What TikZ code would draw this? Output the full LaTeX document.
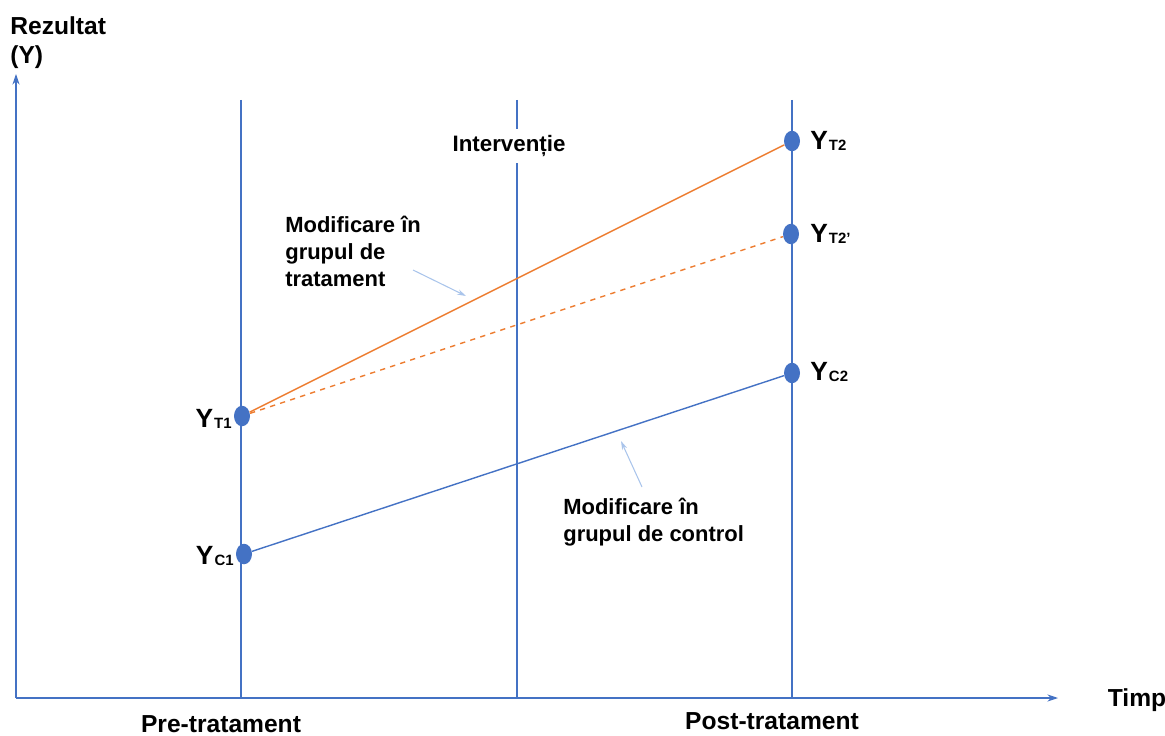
\documentclass[tikz,border=0pt]{standalone}
\usepackage{fontspec}
\setmainfont{Liberation Sans}
\usetikzlibrary{arrows.meta,shapes.geometric}
\definecolor{axisblue}{HTML}{4472C4}
\definecolor{linkblue}{HTML}{A9C4EB}
\definecolor{trorange}{HTML}{ED7D31}
\newcommand{\ylab}[1]{{\fontsize{15}{15}\selectfont\bfseries Y\kern0.6pt\raisebox{-0.6pt}{\fontsize{8.5}{9}\selectfont #1}}}
\tikzset{
  dot/.style={ellipse,fill=axisblue,inner sep=0,minimum width=0.32cm,minimum height=0.41cm},
  grid/.style={axisblue,line width=0.6pt},
  axislbl/.style={font=\fontsize{14}{16}\selectfont\bfseries,inner sep=0},
  notelbl/.style={font=\fontsize{12.5}{15.3}\selectfont\bfseries,inner sep=0,align=left},
  pointer/.style={linkblue,line width=0.6pt,-{Stealth[length=5pt,width=3pt]}}
}

\begin{document}
\begin{tikzpicture}[x=0.02cm,y=-0.02cm]
  \useasboundingbox (0,0) rectangle (1165,736);
  % axes
  \coordinate (o) at (16,698);
  \coordinate (ytop) at (16,74);
  \coordinate (xend) at (1058,698);
  \draw[grid,-{Stealth[length=6pt,width=4pt]}] (o) -- (ytop);
  \draw[grid,-{Stealth[length=6pt,width=4pt]}] (o) -- (xend);
  \node[axislbl,anchor=west] (rez) at (10,26) {Rezultat};
  \node[axislbl,anchor=west] (ylbl) at (10,57) {(Y)};
  \node[axislbl] (timp) at (1137,700) {Timp};
  \node[axislbl] (pre) at (221,724) {Pre-tratament};
  \node[axislbl] (post) at (772,721) {Post-tratament};

  % time lines
  \draw[grid] (241,100) -- (241,698);
  \draw[grid] (517,100) -- (517,698);
  \draw[grid] (792,100) -- (792,698);
  \node[font=\fontsize{12.7}{15}\selectfont\bfseries,fill=white,inner xsep=2pt,inner ysep=3.5pt] (interv) at (509,146) {Intervenție};

  % points
  \node[dot] (yt1) at (242,416) {};
  \node[dot] (yc1) at (244,554) {};
  \node[dot] (yt2) at (792,141) {};
  \node[dot] (yt2p) at (791,234) {};
  \node[dot] (yc2) at (792,373) {};
  \node[anchor=east,inner sep=0] at (232,419) {\ylab{T1}};
  \node[anchor=east,inner sep=0] at (234,556) {\ylab{C1}};
  \node[anchor=west,inner sep=0] at (810,141) {\ylab{T2}};
  \node[anchor=west,inner sep=0] at (810,234) {\ylab{T2'}};
  \node[anchor=west,inner sep=0] at (810,372) {\ylab{C2}};

  \draw[trorange,line width=0.8pt] (yt1) -- (yt2);
  \draw[trorange,line width=0.8pt,dashed] (yt1) -- (yt2p);
  \draw[axisblue,line width=0.8pt] (yc1) -- (yc2);

  % notes
  \node[notelbl,anchor=north west] (ntrat) at (285,216) {Modificare în\\grupul de\\tratament};
  \node[notelbl,anchor=north west] (nctrl) at (563,498) {Modificare în\\grupul de control};
  \coordinate (ptr1a) at (413,270);
  \coordinate (ptr1b) at (466,296);
  \coordinate (ptr2a) at (642,487);
  \coordinate (ptr2b) at (621,441);
  \draw[pointer] (ptr1a) -- (ptr1b);
  \draw[pointer] (ptr2a) -- (ptr2b);
\end{tikzpicture}
\end{document}
